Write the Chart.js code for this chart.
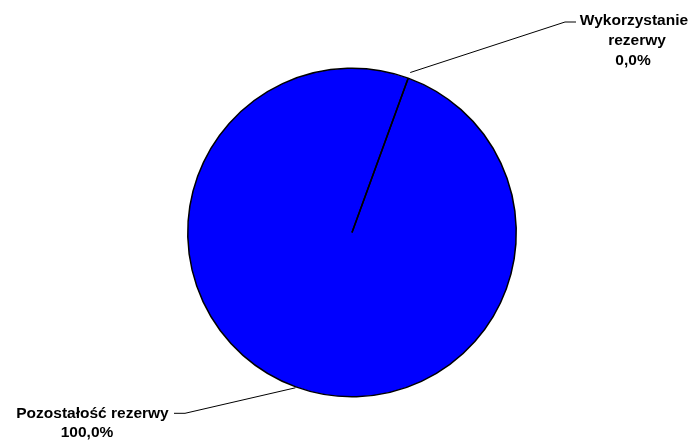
<!DOCTYPE html>
<html>
<head>
<meta charset="utf-8">
<script src="https://cdn.jsdelivr.net/npm/chart.js@4/dist/chart.umd.min.js"></script>
<style>
  html, body { margin: 0; padding: 0; background: #fff; }
  #pie { display: block; }
</style>
</head>
<body>
<canvas id="pie" width="695" height="440"></canvas>
<script>
const categories = ["Wykorzystanie rezerwy", "Pozostałość rezerwy"];
const values = [0, 100];
const percentText = ["0,0%", "100,0%"];

// etykiety danych (jak w Excelu, łamane na linie)
const labelLines = [
  ["Wykorzystanie", "rezerwy", percentText[0]],
  ["Pozostałość rezerwy", percentText[1]],
];

// położenie etykiet i linii odniesienia
const labelStyle = [
  { cx: [634, 637, 633], base: [24.5, 44.7, 65], elbow: [565, 22], end: [576, 22], gap: 6 },
  { cx: [92.5, 87], base: [417.5, 437], elbow: [185, 413.3], end: [174, 413.3], gap: 1 },
];

const leaderPlugin = {
  id: "leaders",
  afterDatasetsDraw(chart) {
    const ctx = chart.ctx;
    const arcs = chart.getDatasetMeta(0).data;
    ctx.save();
    // linia podziału (wycinek 0%)
    const a0 = arcs[0];
    ctx.strokeStyle = "#000";
    ctx.lineWidth = 1.5;
    ctx.beginPath();
    ctx.moveTo(a0.x, a0.y);
    ctx.lineTo(
      a0.x + Math.cos(a0.startAngle) * a0.outerRadius,
      a0.y + Math.sin(a0.startAngle) * a0.outerRadius
    );
    ctx.stroke();

    ctx.lineWidth = 1;
    ctx.font = "bold 15.5px 'Liberation Sans', Arial, sans-serif";
    ctx.fillStyle = "#000";
    ctx.textAlign = "center";
    ctx.textBaseline = "alphabetic";
    arcs.forEach((arc, i) => {
      const st = labelStyle[i];
      const mid = (arc.startAngle + arc.endAngle) / 2;
      const r = arc.outerRadius + st.gap;
      ctx.beginPath();
      ctx.moveTo(arc.x + Math.cos(mid) * r, arc.y + Math.sin(mid) * r);
      ctx.lineTo(st.elbow[0], st.elbow[1]);
      ctx.lineTo(st.end[0], st.end[1]);
      ctx.stroke();
      labelLines[i].forEach((t, j) => {
        ctx.fillText(t, st.cx[j], st.base[j]);
      });
    });
    ctx.restore();
  },
};

new Chart(document.getElementById("pie"), {
  type: "pie",
  data: {
    labels: categories,
    datasets: [
      {
        data: values,
        backgroundColor: ["#0000FF", "#0000FF"],
        borderColor: "#000000",
        borderWidth: 1.5,
      },
    ],
  },
  options: {
    responsive: false,
    animation: false,
    rotation: 20,
    layout: { padding: { left: 187, right: 178, top: 67, bottom: 42 } },
    plugins: {
      legend: { display: false },
      tooltip: { enabled: false },
    },
  },
  plugins: [leaderPlugin],
});
</script>
</body>
</html>
